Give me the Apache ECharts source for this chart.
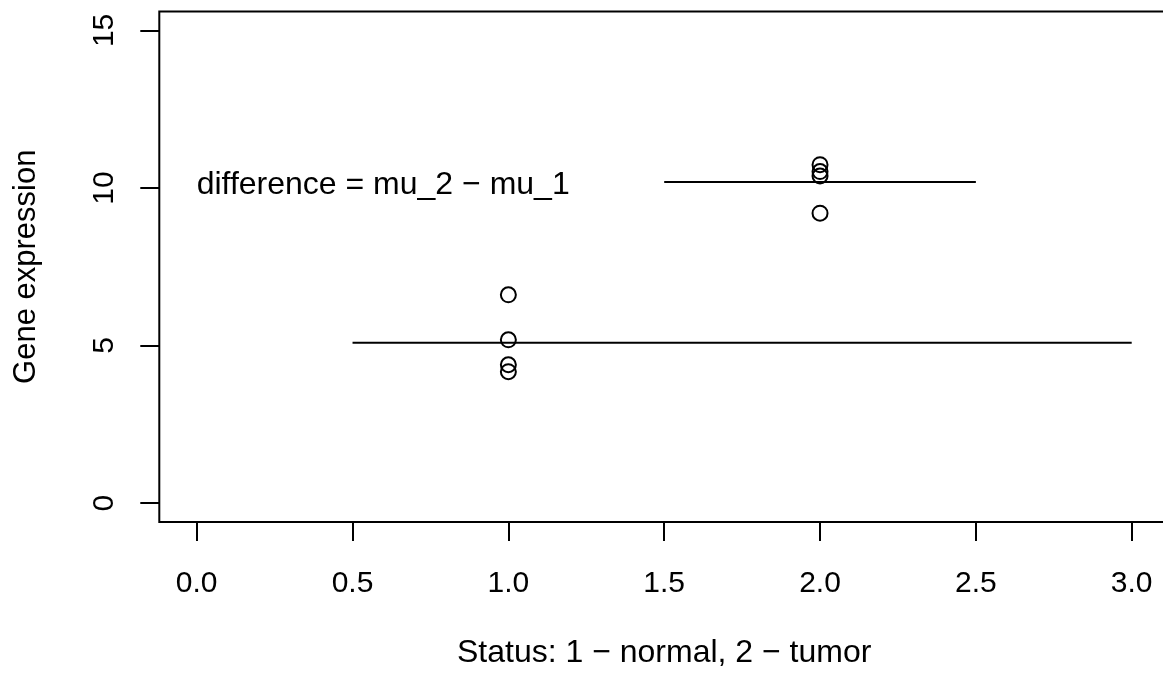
<!DOCTYPE html>
<html>
<head>
<meta charset="utf-8">
<script src="https://cdn.jsdelivr.net/npm/echarts@6/dist/echarts.min.js"></script>
<style>
  html, body { margin: 0; padding: 0; background: #fff; }
  #chart { width: 1163px; height: 675px; }
</style>
</head>
<body>
<div id="chart"></div>
<script>
// Expression values per sample status (1 = normal, 2 = tumor)
const normalStatus = [1, 1, 1, 1];
const normalExpr = [6.61, 5.18, 4.39, 4.17];
const tumorStatus = [2, 2, 2, 2];
const tumorExpr = [10.74, 10.52, 10.38, 9.20];

// Group mean lines: horizontal segments [xStart, xEnd, y]
const meanNormal = [0.5, 3.0, 5.09];
const meanTumor = [1.5, 2.5, 10.19];

// Annotation
const noteText = 'difference = mu_2 \u2212 mu_1';
const notePoint = [0, 10.1];

// Axis ranges and ticks
const xRange = [-0.12, 3.12];
const yRange = [-0.6, 15.6];
const xTicks = [0, 0.5, 1.0, 1.5, 2.0, 2.5, 3.0];
const yTicks = [0, 5, 10, 15];

const xTitle = 'Status: 1 \u2212 normal, 2 \u2212 tumor';
const yTitle = 'Gene expression';

const FONT = 'Liberation Sans, Arial, Helvetica, sans-serif';
const FS_TEXT = 32;
const FS_TICK = 30;

const chart = echarts.init(document.getElementById('chart'), null, { renderer: 'canvas' });

function pts(xs, ys) { return xs.map((x, i) => [x, ys[i]]); }

const circleStyle = { color: 'transparent', borderColor: '#000', borderWidth: 2, opacity: 1 };

chart.setOption({
  animation: false,
  backgroundColor: '#ffffff',
  grid: {
    left: 159.3,
    top: 11.5,
    width: 1009.8,
    height: 510.5,
    outerBoundsMode: 'none',
    containLabel: false,
    show: true,
    borderColor: '#000',
    borderWidth: 2,
    backgroundColor: 'transparent'
  },
  xAxis: {
    type: 'value',
    min: xRange[0],
    max: xRange[1],
    axisLine: { show: false, onZero: false },
    splitLine: { show: false },
    axisTick: {
      show: true,
      customValues: xTicks,
      length: 19,
      inside: false,
      lineStyle: { color: '#000', width: 2 }
    },
    axisLabel: {
      customValues: xTicks,
      formatter: v => v.toFixed(1),
      color: '#000',
      fontFamily: FONT,
      fontSize: FS_TICK,
      margin: 47
    },
    name: xTitle,
    nameLocation: 'middle',
    nameGap: 115,
    nameTextStyle: { color: '#000', fontFamily: FONT, fontSize: FS_TEXT }
  },
  yAxis: {
    type: 'value',
    min: yRange[0],
    max: yRange[1],
    axisLine: { show: false, onZero: false },
    splitLine: { show: false },
    axisTick: {
      show: true,
      customValues: yTicks,
      length: 19,
      lineStyle: { color: '#000', width: 2 }
    },
    axisLabel: {
      customValues: yTicks,
      rotate: 90,
      color: '#000',
      fontFamily: FONT,
      fontSize: FS_TICK,
      margin: 40
    },
    name: yTitle,
    nameLocation: 'middle',
    nameGap: 117,
    nameRotate: 90,
    nameTextStyle: { color: '#000', fontFamily: FONT, fontSize: 31 }
  },
  series: [
    {
      type: 'line',
      data: [[meanNormal[0], meanNormal[2]], [meanNormal[1], meanNormal[2]]],
      symbol: 'none',
      lineStyle: { color: '#000', width: 2 },
      silent: true
    },
    {
      type: 'line',
      data: [[meanTumor[0], meanTumor[2]], [meanTumor[1], meanTumor[2]]],
      symbol: 'none',
      lineStyle: { color: '#000', width: 2 },
      silent: true
    },
    {
      type: 'scatter',
      data: pts(normalStatus, normalExpr),
      symbol: 'circle',
      symbolSize: 15,
      itemStyle: circleStyle
    },
    {
      type: 'scatter',
      data: pts(tumorStatus, tumorExpr),
      symbol: 'circle',
      symbolSize: 15,
      itemStyle: circleStyle
    },
    {
      type: 'scatter',
      data: [notePoint],
      symbolSize: 0,
      silent: true,
      itemStyle: { opacity: 1 },
      label: {
        show: true,
        position: 'right',
        distance: 0,
        formatter: noteText,
        color: '#000',
        fontFamily: FONT,
        fontSize: FS_TEXT
      }
    }
  ]
});
</script>
</body>
</html>
